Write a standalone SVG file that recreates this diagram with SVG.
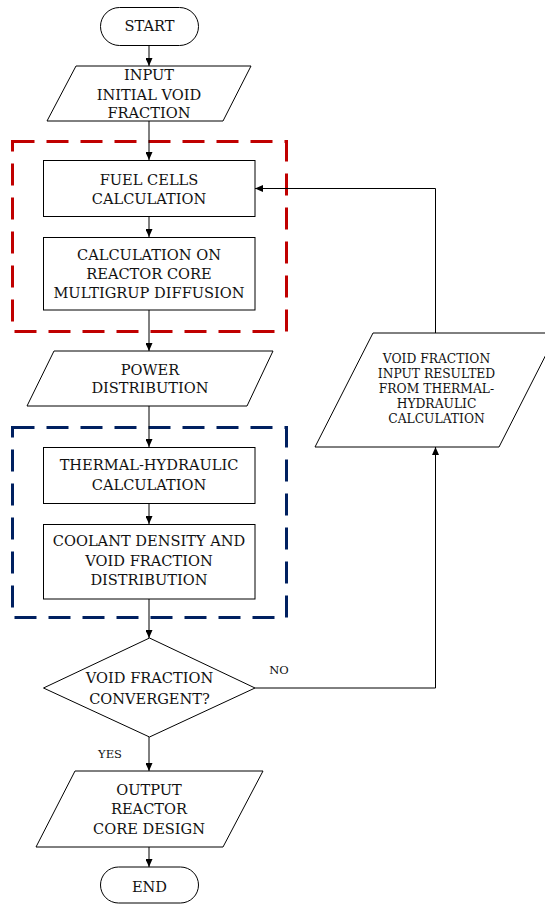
<svg xmlns="http://www.w3.org/2000/svg" width="545" height="906" viewBox="0 0 545 906">
  <defs>
    <marker id="arrow" markerWidth="8" markerHeight="7" refX="8" refY="3.5" orient="auto" markerUnits="userSpaceOnUse">
      <path d="M0,0 L8,3.5 L0,7 z" fill="#000"/>
    </marker>
    <style>
      text { font-family: "DejaVu Serif", "Liberation Serif", serif; fill: #111; text-anchor: middle; }
      .shape { fill: #fff; stroke: #000; stroke-width: 1; }
      .lbl { font-size: 14.6px; }
      .note { font-size: 12.3px; }
      .tag { font-size: 11.5px; }
      .edge { fill: none; stroke: #000; stroke-width: 1; }
      .group-red { fill: none; stroke: #c00000; stroke-width: 3; stroke-dasharray: 22 12; }
      .group-blue { fill: none; stroke: #002060; stroke-width: 3; stroke-dasharray: 22 12; }
    </style>
  </defs>
  <rect width="545" height="906" fill="#fff"/>

  <!-- dashed grouping frames -->
  <rect class="group-red" x="12.5" y="141.5" width="274" height="190"/>
  <rect class="group-blue" x="12.5" y="427.5" width="274" height="190"/>

  <!-- connectors -->
  <g id="connectors">
    <line class="edge" x1="149" y1="45" x2="149" y2="66" marker-end="url(#arrow)"/>
    <line class="edge" x1="149" y1="121" x2="149" y2="160" marker-end="url(#arrow)"/>
    <line class="edge" x1="149" y1="217" x2="149" y2="237" marker-end="url(#arrow)"/>
    <line class="edge" x1="149" y1="310" x2="149" y2="351" marker-end="url(#arrow)"/>
    <line class="edge" x1="149" y1="406" x2="149" y2="447" marker-end="url(#arrow)"/>
    <line class="edge" x1="149" y1="503" x2="149" y2="524" marker-end="url(#arrow)"/>
    <line class="edge" x1="149" y1="599" x2="149" y2="638" marker-end="url(#arrow)"/>
    <line class="edge" x1="149" y1="737" x2="149" y2="771" marker-end="url(#arrow)"/>
    <line class="edge" x1="149" y1="847" x2="149" y2="867" marker-end="url(#arrow)"/>
    <polyline class="edge" points="255,688 435.5,688 435.5,447" marker-end="url(#arrow)"/>
    <polyline class="edge" points="435.5,333 435.5,188.5 255,188.5" marker-end="url(#arrow)"/>
    <text class="tag" x="279" y="674">NO</text>
    <text class="tag" x="110" y="758">YES</text>
  </g>

  <g id="start">
    <rect class="shape" x="100.5" y="7.5" width="98" height="38" rx="19" ry="19"/>
    <text class="lbl" x="149.5" y="31">START</text>
  </g>

  <g id="input">
    <polygon class="shape" points="76,66 251,66 223,121 47,121"/>
    <text class="lbl" x="149" y="80">INPUT</text>
    <text class="lbl" x="149" y="99.5">INITIAL VOID</text>
    <text class="lbl" x="149" y="118">FRACTION</text>
  </g>

  <g id="fuel-cells">
    <rect class="shape" x="43.5" y="160.5" width="211.5" height="56"/>
    <text class="lbl" x="149" y="185">FUEL CELLS</text>
    <text class="lbl" x="149" y="203.5">CALCULATION</text>
  </g>

  <g id="core-diffusion">
    <rect class="shape" x="43.5" y="237.5" width="211.5" height="72.5"/>
    <text class="lbl" x="149" y="259.5">CALCULATION ON</text>
    <text class="lbl" x="149" y="279">REACTOR CORE</text>
    <text class="lbl" x="149" y="298">MULTIGRUP DIFFUSION</text>
  </g>

  <g id="power">
    <polygon class="shape" points="54,351 273,351 247,406 27,406"/>
    <text class="lbl" x="150" y="374.5">POWER</text>
    <text class="lbl" x="150" y="393">DISTRIBUTION</text>
  </g>

  <g id="thermal-hydraulic">
    <rect class="shape" x="43.5" y="447.5" width="211.5" height="56"/>
    <text class="lbl" x="149" y="469.5">THERMAL-HYDRAULIC</text>
    <text class="lbl" x="149" y="489.5">CALCULATION</text>
  </g>

  <g id="coolant">
    <rect class="shape" x="43.5" y="524.5" width="211.5" height="74.5"/>
    <text class="lbl" x="149" y="546">COOLANT DENSITY AND</text>
    <text class="lbl" x="149" y="566">VOID FRACTION</text>
    <text class="lbl" x="149" y="585">DISTRIBUTION</text>
  </g>

  <g id="decision">
    <polygon class="shape" points="149.5,638 255,688 149.5,737 43.5,688"/>
    <text class="lbl" x="149.5" y="683">VOID FRACTION</text>
    <text class="lbl" x="149.5" y="703.5">CONVERGENT?</text>
  </g>

  <g id="void-feedback">
    <polygon class="shape" points="373,333 557,333 499,447 315,447"/>
    <text class="note" x="436.5" y="362.5">VOID FRACTION</text>
    <text class="note" x="436.5" y="377.5">INPUT RESULTED</text>
    <text class="note" x="436.5" y="392.5">FROM THERMAL-</text>
    <text class="note" x="436.5" y="407.5">HYDRAULIC</text>
    <text class="note" x="436.5" y="422.5">CALCULATION</text>
  </g>

  <g id="output">
    <polygon class="shape" points="75,771 263,771 223,847 36,847"/>
    <text class="lbl" x="149" y="795">OUTPUT</text>
    <text class="lbl" x="149" y="814">REACTOR</text>
    <text class="lbl" x="149" y="833.5">CORE DESIGN</text>
  </g>

  <g id="end">
    <rect class="shape" x="100.5" y="867" width="98" height="36" rx="18" ry="18"/>
    <text class="lbl" x="149.5" y="891.5">END</text>
  </g>
</svg>
